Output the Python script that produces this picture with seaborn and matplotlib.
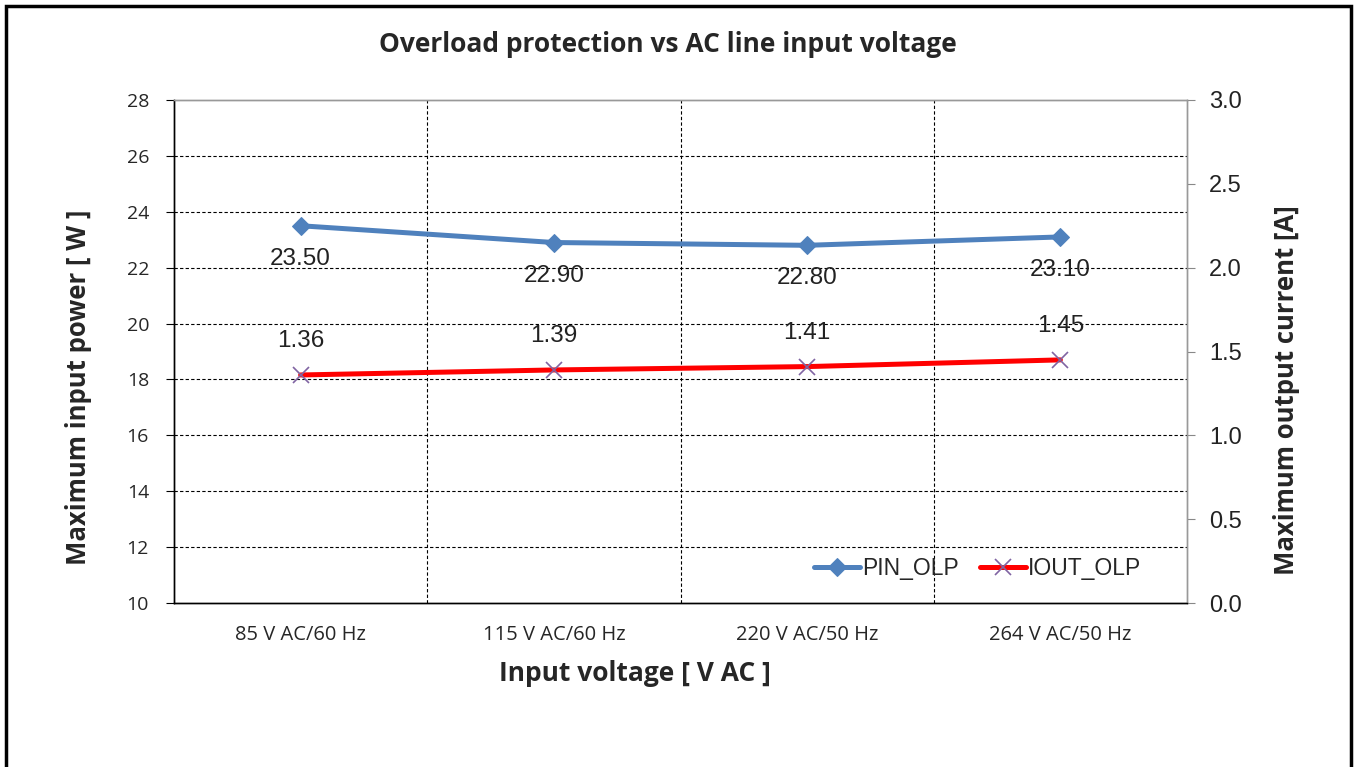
import numpy as np
import pandas as pd
import matplotlib.pyplot as plt
import seaborn as sns
from matplotlib.patches import Rectangle

# chart data
categories = ["85 V AC/60 Hz", "115 V AC/60 Hz", "220 V AC/50 Hz", "264 V AC/50 Hz"]
pin_olp = [23.50, 22.90, 22.80, 23.10]
iout_olp = [1.36, 1.39, 1.41, 1.45]
left_ticks = [10, 12, 14, 16, 18, 20, 22, 24, 26, 28]
right_ticks = [0.0, 0.5, 1.0, 1.5, 2.0, 2.5, 3.0]

df = pd.DataFrame({"cat": categories, "PIN_OLP": pin_olp, "IOUT_OLP": iout_olp})
df["pos"] = np.arange(len(categories))

sns.set_style("white")
plt.rcParams['font.family'] = ['Liberation Sans', 'DejaVu Sans']
bold_font = ['Open Sans', 'DejaVu Sans']

blue = "#4F81BD"
red = "#FF0000"
purple = "#8064A2"

fig = plt.figure(figsize=(13.57, 7.67), dpi=100)
ax = fig.add_axes([174/1357, 1 - 603/767, (1187-174)/1357, (603-100)/767])
ax2 = ax.twinx()

sns.lineplot(data=df, x="pos", y="PIN_OLP", ax=ax, color=blue, linewidth=3.6,
             marker="D", markersize=9, markeredgecolor=blue, label="PIN_OLP", legend=False, zorder=4)
sns.lineplot(data=df, x="pos", y="IOUT_OLP", ax=ax2, color=red, linewidth=3.6,
             marker="x", markersize=11, markeredgecolor=purple, markeredgewidth=1.2,
             label="IOUT_OLP", legend=False, zorder=4)

# data labels
for x, v in zip(df["pos"], pin_olp):
    ax.annotate(f"{v:.2f}", (x, v), xytext=(0, -33), textcoords="offset pixels",
                ha="center", va="center", fontsize=17.5, color="#222222")
for x, v in zip(df["pos"], iout_olp):
    ax2.annotate(f"{v:.2f}", (x, v), xytext=(0, 34), textcoords="offset pixels",
                 ha="center", va="center", fontsize=17.5, color="#222222")

# axes limits and ticks
ax.set_xlim(-0.5, len(categories) - 0.5)
ax.set_ylim(10, 28)
ax2.set_ylim(0, 3)
ax.set_yticks(left_ticks)
ax.set_yticklabels([str(t) for t in left_ticks], fontsize=14, family=bold_font)
ax2.set_yticks(right_ticks)
ax2.set_yticklabels([f"{t:.1f}" for t in right_ticks], fontsize=17, color="#222222")

ax.set_xticks(np.arange(-0.5, len(categories)), minor=False)
ax.set_xticklabels([])
ax.set_xticks(df["pos"], minor=True)
ax.set_xticklabels(categories, minor=True, fontsize=14.5, family=bold_font)
ax.tick_params(axis="x", which="minor", length=0, pad=16)
ax.tick_params(axis="x", which="major", length=6, direction="out", color="black")
ax.tick_params(axis="y", length=6, direction="out", color="black", pad=12)
ax2.tick_params(axis="y", length=6, direction="out", color="#888888", pad=10)

# grid
for y in left_ticks[1:-1]:
    ax.axhline(y, color="black", linestyle=(0, (3, 2)), linewidth=0.8, zorder=1)
for x in np.arange(0.5, len(categories) - 0.5):
    ax.axvline(x, color="black", linestyle=(0, (3, 2)), linewidth=0.8, zorder=1)

for a in (ax, ax2):
    a.spines["left"].set_color("black")
    a.spines["bottom"].set_color("black")
    a.spines["top"].set_color("#999999")
    a.spines["right"].set_color("#999999")
    for s in a.spines.values():
        s.set_linewidth(1.0)

ax.set_xlabel("Input voltage [ V AC ]", fontsize=19, fontweight="bold", family=bold_font)
ax.set_ylabel("Maximum input power [ W ]", fontsize=18.5, fontweight="bold", family=bold_font)
ax2.set_ylabel("Maximum output current [A]", fontsize=18.5, fontweight="bold", family=bold_font)
ax.xaxis.set_label_coords(0.455, -0.113)
ax.yaxis.set_label_coords(-0.081, 0.429)
ax2.yaxis.set_label_coords(1.085, 0.423)

fig.suptitle("Overload protection vs AC line input voltage", x=668/1357, y=1 - 45/767,
             va="center", fontsize=19, fontweight="bold", family=bold_font)

# legend
h1, l1 = ax.get_legend_handles_labels()
h2, l2 = ax2.get_legend_handles_labels()
ax.legend(h1 + h2, l1 + l2, loc="center right", bbox_to_anchor=(0.975, 0.068), ncol=2,
          frameon=False, fontsize=16.5, handlelength=2.0, columnspacing=0.9, handletextpad=0.1)

# outer border of the chart area
fig.patches.append(Rectangle((6/1357, -0.05), 1345/1357, 1.05 - 6/767, transform=fig.transFigure,
                             fill=False, edgecolor="black", linewidth=2.5))

fig.savefig("out.png", dpi=100)
